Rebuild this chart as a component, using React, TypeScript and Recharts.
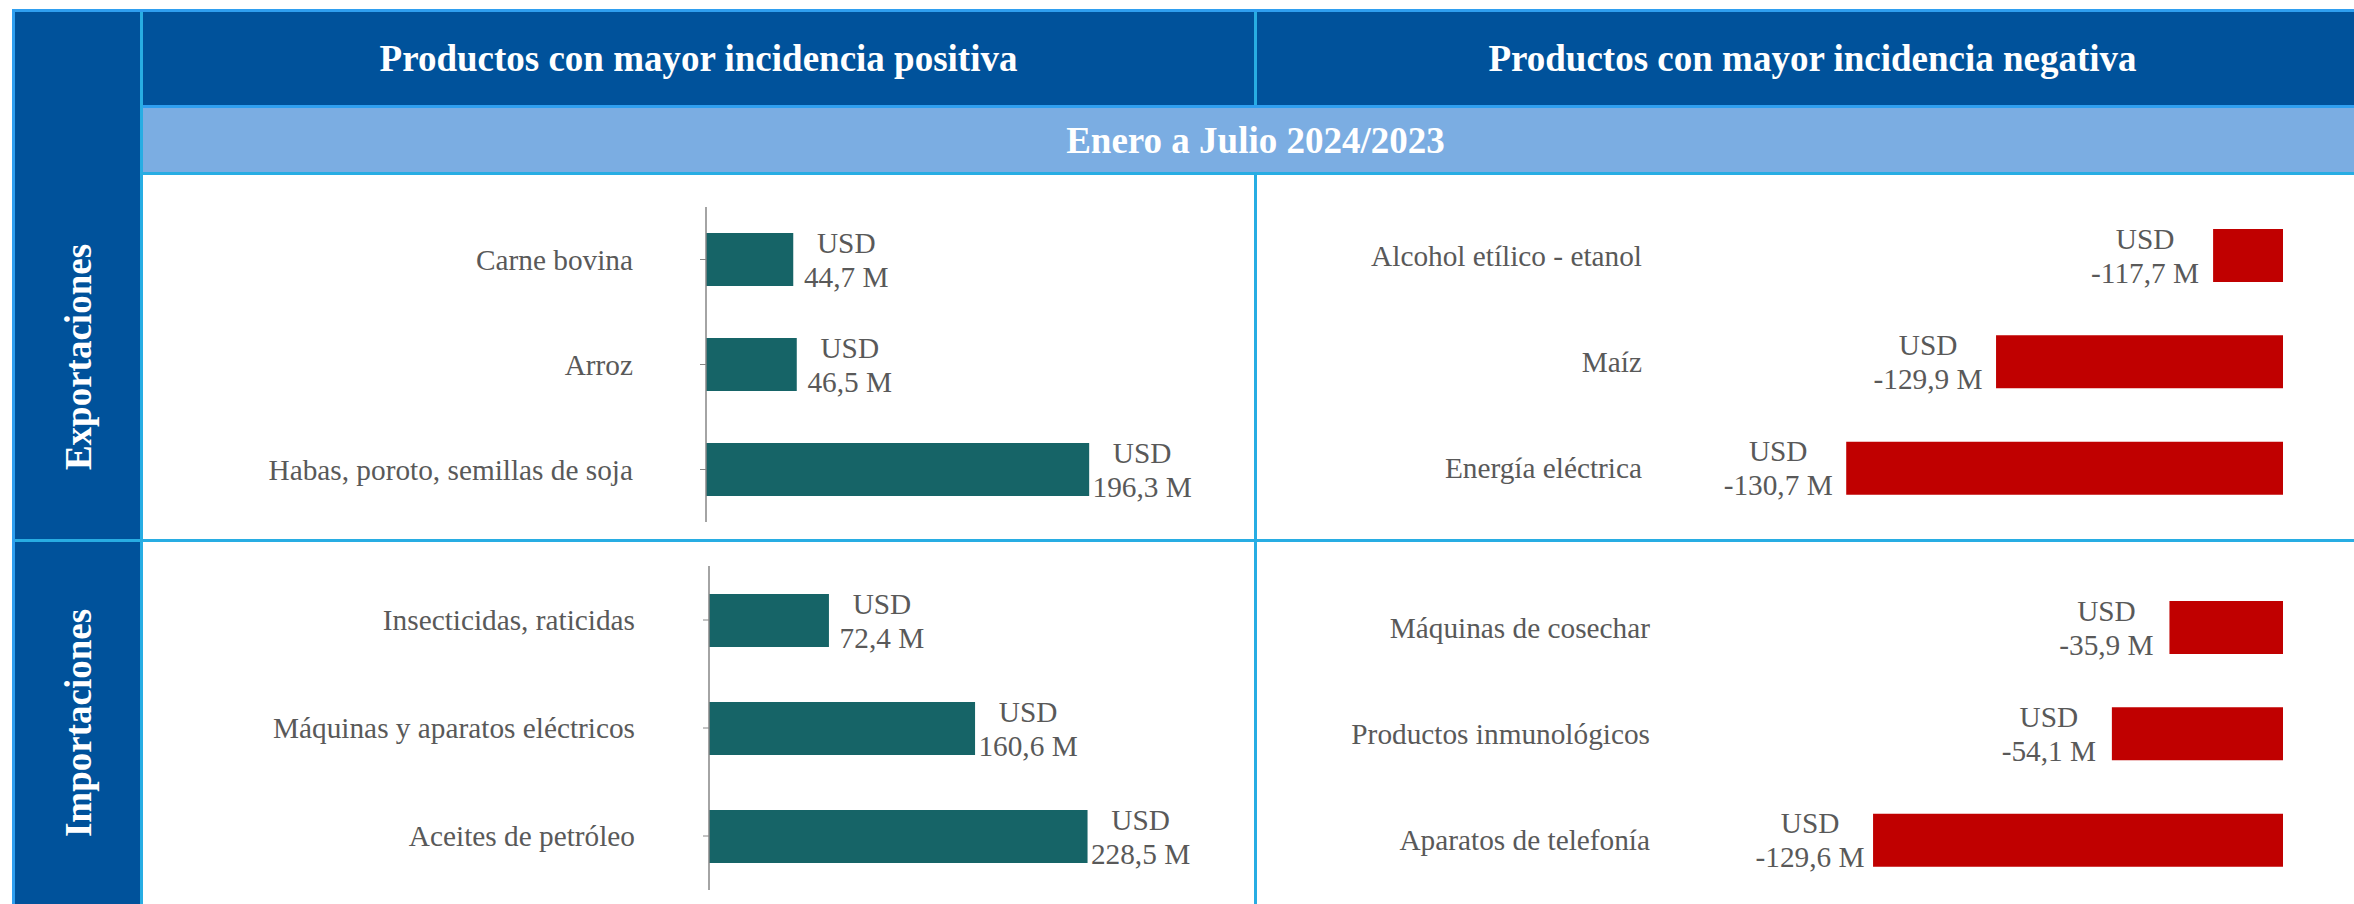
import { BarChart, Bar, XAxis, YAxis, LabelList } from "recharts";

const FONT = '"Liberation Serif", "Times New Roman", serif';
const DARK = "#00529b";
const LIGHT = "#7badE2";
const EDGE = "#2f9ff0";
const LINE = "#28ade3";
const TEAL = "#166467";
const RED = "#c00000";
const AXIS = "#868686";
const GREY = "#595959";

// Exportaciones
const expPosNames = ["Carne bovina", "Arroz", "Habas, poroto, semillas de soja"];
const expPosValues = [44.7, 46.5, 196.3];

const expNegNames = ["Alcohol etílico - etanol", "Maíz", "Energía eléctrica"];
const expNegValues = [-117.7, -129.9, -130.7];
// in the source these bars are not drawn to their labels, lengths read off the picture
const expNegBars = [-20.9, -85.8, -130.6];

// Importaciones
const impPosNames = ["Insecticidas, raticidas", "Máquinas y aparatos eléctricos", "Aceites de petróleo"];
const impPosValues = [72.4, 160.6, 228.5];

const impNegNames = ["Máquinas de cosechar", "Productos inmunológicos", "Aparatos de telefonía"];
const impNegValues = [-35.9, -54.1, -129.6];

const fmt = (v: number) => `${v.toFixed(1).replace(".", ",")} M`;
const textStyle = { fontFamily: FONT, fontSize: 29.3, fill: GREY };

const makeUsdLabel = (side: "right" | "left", gap: number) => (props: any) => {
  const vb = props.viewBox || props;
  const x = Number(vb.x);
  const y = Number(vb.y);
  const w = Number(vb.width);
  const h = Number(vb.height);
  const left = Math.min(x, x + w);
  const right = Math.max(x, x + w);
  const cx = side === "right" ? right + gap : left - gap;
  const cy = y + h / 2;
  return (
    <text x={cx} y={cy - 7} textAnchor="middle" fontFamily={FONT} style={textStyle}>
      <tspan x={cx}>USD</tspan>
      <tspan x={cx} dy={34}>
        {fmt(Number(props.value))}
      </tspan>
    </text>
  );
};

// category name, right aligned, vertically centred on the band
const CategoryTick = (props: any) => {
  const { x, y, payload } = props;
  return (
    <text x={x} y={y} dy="0.355em" textAnchor="end" fontFamily={FONT} style={textStyle}>
      {payload.value}
    </text>
  );
};

const PositiveChart = ({
  names,
  values,
  domainMax,
  yWidth,
  tickGap,
  width,
  height,
  margin,
}: {
  names: string[];
  values: number[];
  domainMax: number;
  yWidth: number;
  tickGap: number;
  width: number;
  height: number;
  margin: { top: number; right: number; bottom: number; left: number };
}) => {
  const data = names.map((name, i) => ({ name, value: values[i] }));
  return (
    <BarChart layout="vertical" width={width} height={height} data={data} margin={margin}>
      <XAxis type="number" domain={[0, domainMax]} allowDataOverflow hide />
      <YAxis
        type="category"
        dataKey="name"
        width={yWidth}
        tick={<CategoryTick />}
        tickSize={6}
        tickMargin={tickGap}
        tickLine={{ stroke: AXIS }}
        axisLine={{ stroke: AXIS, strokeWidth: 1.5 }}
        interval={0}
      />
      <Bar dataKey="value" fill={TEAL} barSize={53} isAnimationActive={false}>
        <LabelList dataKey="value" content={makeUsdLabel("right", 53)} />
      </Bar>
    </BarChart>
  );
};

const NegativeChart = ({
  names,
  bars,
  labels,
  domainMin,
  yWidth,
  tickGap,
  labelGap,
  width,
  height,
  margin,
}: {
  names: string[];
  bars: number[];
  labels: number[];
  domainMin: number;
  yWidth: number;
  tickGap: number;
  labelGap: number;
  width: number;
  height: number;
  margin: { top: number; right: number; bottom: number; left: number };
}) => {
  const data = names.map((name, i) => ({ name, bar: bars[i], label: labels[i] }));
  return (
    <BarChart layout="vertical" width={width} height={height} data={data} margin={margin}>
      <XAxis type="number" domain={[domainMin, 0]} allowDataOverflow hide />
      <YAxis
        type="category"
        dataKey="name"
        width={yWidth}
        tick={<CategoryTick />}
        tickLine={false}
        axisLine={false}
        tickSize={0}
        tickMargin={tickGap}
        interval={0}
      />
      <YAxis
        yAxisId="line"
        type="category"
        dataKey="name"
        orientation="right"
        mirror
        width={0}
        tick={false}
        tickSize={6}
        tickLine={{ stroke: AXIS }}
        axisLine={{ stroke: AXIS, strokeWidth: 1.5 }}
      />
      <Bar dataKey="bar" fill={RED} barSize={53} isAnimationActive={false}>
        <LabelList dataKey="label" content={makeUsdLabel("left", labelGap)} />
      </Bar>
    </BarChart>
  );
};

const box = (left: number, top: number, width: number, height: number, bg: string) => (
  <div style={{ position: "absolute", left, top, width, height, background: bg }} />
);

const centered = (left: number, top: number, width: number, height: number, text: string) => (
  <div
    style={{
      position: "absolute",
      left,
      top,
      width,
      height,
      display: "flex",
      alignItems: "center",
      justifyContent: "center",
      color: "#fff",
      fontWeight: "bold",
      fontSize: 37,
      fontFamily: FONT,
      whiteSpace: "nowrap",
    }}
  >
    {text}
  </div>
);

const sideText = (cx: number, cy: number, text: string) => (
  <div
    style={{
      position: "absolute",
      left: cx,
      top: cy,
      transform: "translate(-50%, -50%) rotate(-90deg)",
      color: "#fff",
      fontWeight: "bold",
      fontSize: 37,
      fontFamily: FONT,
      whiteSpace: "nowrap",
    }}
  >
    {text}
  </div>
);

export default function App() {
  return (
    <div
      style={{
        position: "absolute",
        left: 0,
        top: 0,
        width: 2354,
        height: 904,
        overflow: "hidden",
        background: "#fff",
        fontFamily: FONT,
      }}
    >
      <style>{`.recharts-wrapper, .recharts-wrapper svg, .recharts-wrapper text, .recharts-wrapper tspan { font-family: "Liberation Serif", "Times New Roman", serif !important; }`}</style>
      {/* frame */}
      {box(15, 12, 125, 892, DARK)}
      {box(143, 12, 2230, 93, DARK)}
      {box(143, 108, 2230, 64, LIGHT)}
      {box(12, 9, 2360, 3, EDGE)}
      {box(12, 9, 3, 895, EDGE)}
      {box(140, 12, 3, 892, LINE)}
      {box(143, 105, 2230, 3, EDGE)}
      {box(143, 172, 2230, 3, LINE)}
      {box(1254, 12, 3, 93, LINE)}
      {box(1254, 175, 3, 729, LINE)}
      {box(15, 539, 2360, 3, LINE)}

      {centered(143, 12, 1111, 93, "Productos con mayor incidencia positiva")}
      {centered(1257, 12, 1111, 93, "Productos con mayor incidencia negativa")}
      {centered(143, 108, 2225, 64, "Enero a Julio 2024/2023")}
      {sideText(78, 357, "Exportaciones")}
      {sideText(78, 723, "Importaciones")}

      <div style={{ position: "absolute", left: 143, top: 175 }}>
        <PositiveChart
          names={expPosNames}
          values={expPosValues}
          domainMax={250}
          yWidth={563}
          tickGap={67}
          width={1111}
          height={364}
          margin={{ top: 32, right: 60, bottom: 17, left: 0 }}
        />
      </div>
      <div style={{ position: "absolute", left: 1257, top: 175 }}>
        <NegativeChart
          names={expNegNames}
          bars={expNegBars}
          labels={expNegValues}
          domainMin={-180}
          yWidth={424}
          tickGap={39}
          labelGap={68}
          width={1097}
          height={364}
          margin={{ top: 27, right: 71, bottom: 18, left: 0 }}
        />
      </div>
      <div style={{ position: "absolute", left: 143, top: 542 }}>
        <PositiveChart
          names={impPosNames}
          values={impPosValues}
          domainMax={300}
          yWidth={566}
          tickGap={68}
          width={1111}
          height={362}
          margin={{ top: 24, right: 48, bottom: 14, left: 0 }}
        />
      </div>
      <div style={{ position: "absolute", left: 1257, top: 542 }}>
        <NegativeChart
          names={impNegNames}
          bars={impNegValues}
          labels={impNegValues}
          domainMin={-190}
          yWidth={425}
          tickGap={32}
          labelGap={63}
          width={1097}
          height={362}
          margin={{ top: 32, right: 71, bottom: 11, left: 0 }}
        />
      </div>
    </div>
  );
}
